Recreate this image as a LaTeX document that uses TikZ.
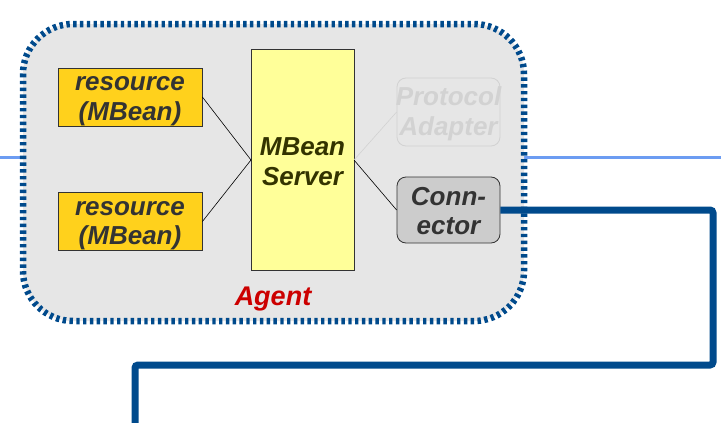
\documentclass[tikz,border=0pt]{standalone}
\usepackage{fontspec}
\setmainfont{Liberation Sans}
\definecolor{agentblue}{HTML}{004A8C}
\definecolor{lightline}{HTML}{6C9CF2}
\definecolor{agentfill}{HTML}{E6E6E6}
\definecolor{resfill}{HTML}{FFD11C}
\definecolor{srvfill}{HTML}{FFFF99}
\definecolor{txtgray}{HTML}{333333}
\definecolor{srvtxt}{HTML}{333300}
\definecolor{fadegray}{HTML}{D2D2D2}
\definecolor{agentred}{HTML}{CC0000}
\tikzset{
  lbl/.style={font=\fontsize{26}{29.5}\selectfont\bfseries\itshape, align=center, inner sep=0pt},
  resbox/.style={draw=txtgray, line width=0.8pt, fill=resfill, minimum width=144pt, minimum height=58pt, inner sep=0pt},
  link/.style={draw=black, line width=0.6pt}
}
\begin{document}
\begin{tikzpicture}[x=1pt,y=-1pt]
\useasboundingbox (0,0) rectangle (721,423);
% light blue line
\draw[lightline, line width=3pt] (0,157) -- (721,157);
% agent box
\draw[agentblue, line width=6.5pt, dash pattern=on 3.4pt off 3.4pt, fill=agentfill, rounded corners=50pt] (23,24) rectangle (524,321);
% nodes
\node[resbox, label={[lbl,text=txtgray,yshift=-4pt]center:{resource\\(MBean)}}] (r1) at (130,97) {};
\node[resbox, label={[lbl,text=txtgray,yshift=-4pt]center:{resource\\(MBean)}}] (r2) at (130,221.5) {};
\node[draw=txtgray, line width=0.8pt, fill=srvfill, minimum width=103pt, minimum height=221pt, inner sep=0pt,
  label={[lbl,text=srvtxt,yshift=-2pt]center:{MBean\\Server}}] (srv) at (302.5,159.5) {};
\node[draw=fadegray, line width=0.8pt, rounded corners=9pt, minimum width=103pt, minimum height=68pt, inner sep=0pt,
  label={[lbl,text=fadegray,yshift=-2pt]center:{Protocol\\Adapter}}] (pa) at (448.5,112) {};
\node[draw=txtgray, line width=0.8pt, fill=black!20, rounded corners=9pt, minimum width=103pt, minimum height=66pt, inner sep=0pt,
  label={[lbl,text=txtgray,yshift=-1pt]center:{Conn-\\ector}}] (con) at (448.5,210) {};
\node[font=\fontsize{27}{30}\selectfont\bfseries\itshape, text=agentred, inner sep=0pt] (agent) at (273,299) {Agent};
% links
\coordinate (sl) at (251,160);
\coordinate (sr) at (354,160);
\draw[link] (r1.east) -- (sl);
\draw[link] (r2.east) -- (sl);
\draw[draw=fadegray, line width=0.6pt] (sr) -- (pa.west);
\draw[link] (sr) -- (con.west);
% thick connector line
\coordinate (c1) at (713,210);
\coordinate (c2) at (713,365);
\coordinate (c3) at (135,365);
\coordinate (c4) at (135,423);
\draw[agentblue, line width=7pt, rounded corners=3pt] (con.east) -- (c1) -- (c2) -- (c3) -- (c4);
\end{tikzpicture}
\end{document}
